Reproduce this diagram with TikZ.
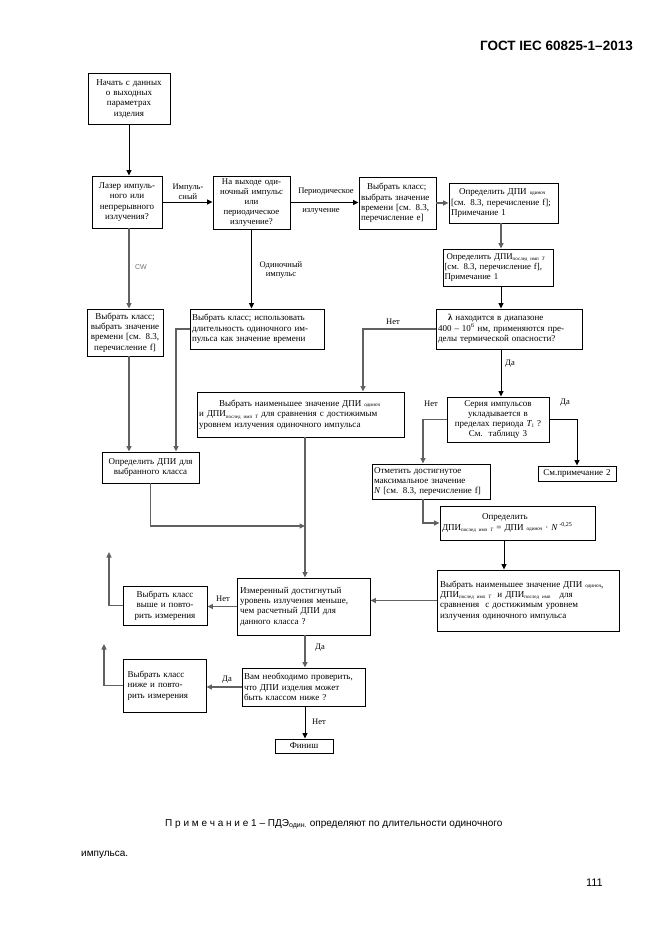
\documentclass[tikz,border=0pt]{standalone}
\usepackage{fontspec}
\setmainfont{Liberation Serif}
\newfontfamily\arialf{Liberation Sans}
\usetikzlibrary{arrows.meta,calc}
\newcommand{\dsub}[1]{\raisebox{-1.3pt}{\fontsize{5}{5}\selectfont #1}}
\newcommand{\dsm}[1]{{\fontsize{5.2}{5.2}\selectfont #1}}
\begin{document}
\begin{tikzpicture}[x=1pt,y=-1pt,
  box/.style={draw=black, line width=0.9pt, inner sep=1.5pt, font=\fontsize{9}{10.3}\selectfont, align=center},
  lbl/.style={inner sep=0pt, font=\fontsize{8.5}{9.6}\selectfont, align=center},
  tip/.style={-{Triangle[length=5.5pt,width=5pt]}},
  bl/.style={draw=black, line width=1pt},
  gr/.style={draw=black!62, line width=1.4pt},
]
\fill[white] (0,0) rectangle (661,935);
\useasboundingbox (0,0) rectangle (661,935);

% header
\node[anchor=base east, inner sep=0pt, font=\arialf\bfseries\fontsize{13.5}{15}\selectfont] (hdr) at (633,50) {ГОСТ IEC 60825-1–2013};

% boxes
\node[box, minimum width=82pt, minimum height=51pt, text width=78pt] (start) at (129,98.5) {Начать с данных\\о выходных\\параметрах\\изделия};
\node[box, minimum width=70pt, minimum height=52pt, text width=66pt] (laser) at (127,202) {Лазер импуль-\\ного или\\непрерывного\\излучения?};
\node[box, minimum width=77pt, minimum height=53pt, text width=73pt, font=\fontsize{8.8}{9.8}\selectfont] (imp) at (251.5,202.5) {На выходе оди-\\ночный импульс\\или\\периодическое\\излучение?};
\node[box, minimum width=77pt, minimum height=52pt, text width=73pt, align=left] (per) at (397.5,203) {\hspace*{6pt}Выбрать класс;\\выбрать значение\\времени [см. 8.3,\\перечисление e]};
\node[box, minimum width=109pt, minimum height=40pt, text width=105pt, align=left] (d1) at (503.5,203) {\hspace*{8pt}Определить ДПИ \dsm{одиноч}\\{}[см. 8.3, перечисление f];\\Примечание 1};
\node[box, minimum width=110pt, minimum height=37pt, text width=107pt, align=left, font=\fontsize{8.8}{10.3}\selectfont] (d2) at (498,267.5) {\hspace*{2pt}Определить ДПИ\dsub{послед имп \textit{T}}\\{}[см. 8.3, перечисление f],\\Примечание 1};
\node[box, minimum width=146pt, minimum height=40pt, text width=142pt, align=left] (lam) at (509,329) {\hspace*{10pt}\textbf{λ} находится в диапазоне\\400 – 10\textsuperscript{6} нм, применяются пре-\\делы термической опасности?};
\node[box, minimum width=102pt, minimum height=45pt, text width=98pt] (ser) at (498,419.5) {Серия импульсов\\укладывается в\\пределах периода \textit{T}\textsubscript{i} ?\\См.\ \ таблицу 3};
\node[box, minimum width=207pt, minimum height=45pt, text width=203pt, align=left] (min1) at (300.5,414.5) {\hspace*{20pt}Выбрать наименьшее значение ДПИ \dsm{одиноч}\\и ДПИ\dsub{послед имп \textit{T}} для сравнения с достижимым\\уровнем излучения одиночного импульса};
\node[box, minimum width=118pt, minimum height=35pt, text width=114pt, align=left] (mark) at (431,481.5) {Отметить достигнутое\\максимальное значение\\\textit{N} [см. 8.3, перечисление f]};
\node[box, minimum width=78pt, minimum height=15pt, text width=74pt] (see) at (577,473.5) {См.примечание 2};
\node[box, minimum width=155pt, minimum height=34pt, text width=151pt, align=left] (det) at (517.5,523) {\hspace*{40pt}Определить\\ДПИ\dsub{послед имп \textit{T}} = ДПИ \dsm{одиноч} · \textit{N}\,\textsuperscript{-0,25}};
\node[box, minimum width=182pt, minimum height=61pt, text width=176pt, align=left] (min2) at (528,600.5) {Выбрать наименьшее значение ДПИ \dsm{одиноч},\\ДПИ\dsub{послед имп \textit{T}}\ \ и\ ДПИ\dsub{послед имп}\ \ \ для\\сравнения\ \ с достижимым уровнем\\излучения\ одиночного импульса};
\node[box, minimum width=133pt, minimum height=57pt, text width=127pt, align=left] (meas) at (303.5,606.5) {Измеренный достигнутый\\уровень излучения меньше,\\чем расчетный ДПИ для\\данного класса ?};
\node[box, minimum width=97pt, minimum height=31pt, text width=93pt] (dpi) at (150.5,467.5) {Определить ДПИ для\\выбранного класса};
\node[box, minimum width=76pt, minimum height=47pt, text width=72pt] (cw) at (125,332.5) {Выбрать класс;\\выбрать значение\\времени [см. 8.3,\\перечисление f]};
\node[box, minimum width=134pt, minimum height=40pt, text width=130pt, align=left] (single) at (257,329) {Выбрать класс; использовать\\длительность одиночного им-\\пульса как значение времени};
\node[box, minimum width=84pt, minimum height=39pt, text width=74pt] (up) at (165,605.5) {Выбрать класс\\выше и повто-\\рить измерения};
\node[box, minimum width=123pt, minimum height=38pt, text width=119pt, align=left] (check) at (303.5,687) {Вам необходимо проверить,\\что ДПИ изделия может\\быть классом ниже ?};
\node[box, minimum width=83pt, minimum height=53pt, text width=74pt, align=left] (down) at (164.5,685.5) {Выбрать класс\\ниже и повто-\\рить измерения};
\node[box, minimum width=58pt, minimum height=14pt, text width=54pt] (fin) at (304,746) {Финиш};

% labels
\node[lbl] (l1) at (188,192) {Импуль-\\сный};
\node[lbl] (l2) at (326,192) {Периодическое};
\node[lbl] (l3) at (321,211) {излучение};
\node[lbl, font=\arialf\fontsize{7}{8}\selectfont, text=black!55] (l4) at (141,267) {CW};
\node[lbl] (l5) at (281,270) {Одиночный\\импульс};
\node[lbl] (l6) at (393,322) {Нет};
\node[lbl] (l7) at (510,364) {Да};
\node[lbl] (l8) at (431,404) {Нет};
\node[lbl] (l9) at (565,403) {Да};
\node[lbl] (l10) at (223,599) {Нет};
\node[lbl] (l11) at (320,648) {Да};
\node[lbl] (l12) at (227,680) {Да};
\node[lbl] (l13) at (319,722) {Нет};

% helper coordinates
\coordinate (xa) at (501,0);
\coordinate (xb) at (363,0);
\coordinate (xc) at (423,0);
\coordinate (xf) at (504,0);
\coordinate (xg) at (305,0);
\coordinate (xh) at (129,0);
\coordinate (xi) at (176,0);
\coordinate (j1) at (305,526);
\coordinate (upend) at (109,552);
\coordinate (downend) at (104,644);

% connectors
\draw[bl,tip] (start.south) -- (start.south |- laser.north);
\draw[bl,tip] (laser.east) -- (laser.east -| imp.west);
\draw[bl,tip] (imp.east) -- (imp.east -| per.west);
\draw[gr,tip] (per.east) -- (per.east -| d1.west);
\draw[gr,tip] (xa |- d1.south) -- (xa |- d2.north);
\draw[bl,tip] (xa |- d2.south) -- (xa |- lam.north);
\draw[gr,tip] (lam.west) -| (xb |- min1.north);
\draw[bl,tip] (xa |- lam.south) -- (xa |- ser.north);
\draw[gr,tip] (ser.west) -| (xc |- mark.north);
\draw[bl,tip] (ser.east) -| (see.north);
\draw[gr,tip] (xc |- mark.south) |- (det.west);
\draw[bl,tip] (xf |- det.south) -- (xf |- min2.north);
\draw[gr,tip] (min2.west) -- (min2.west -| meas.east);
\draw[gr,tip] (xg |- min1.south) -- (xg |- meas.north);
\draw[gr,tip] (dpi.south) |- (j1);
\draw[gr,tip] (xh |- laser.south) -- (xh |- cw.north);
\draw[gr,tip] (xh |- cw.south) -- (xh |- dpi.north);
\draw[bl,tip] (imp.south) -- (imp.south |- single.north);
\draw[gr,tip] (single.west) -| (xi |- dpi.north);
\draw[gr,tip] (meas.west) -- (meas.west -| up.east);
\draw[gr,tip] (up.west) -| (upend);
\draw[gr,tip] (xg |- meas.south) -- (xg |- check.north);
\draw[gr,tip] (check.west) -- (check.west -| down.east);
\draw[gr,tip] (down.west) -| (downend);
\draw[bl,tip] (xg |- check.south) -- (xg |- fin.north);

% note
\node[anchor=base west, inner sep=0pt, font=\arialf\fontsize{10}{12}\selectfont] (note1) at (165,826) {П р и м е ч а н и е 1 – ПДЭ\textsubscript{один.} определяют по длительности одиночного};
\node[anchor=base west, inner sep=0pt, font=\arialf\fontsize{10}{12}\selectfont] (note2) at (81,856) {импульса.};
\node[anchor=base east, inner sep=0pt, font=\arialf\fontsize{11}{12}\selectfont] (pg) at (603,886) {111};
\end{tikzpicture}
\end{document}
